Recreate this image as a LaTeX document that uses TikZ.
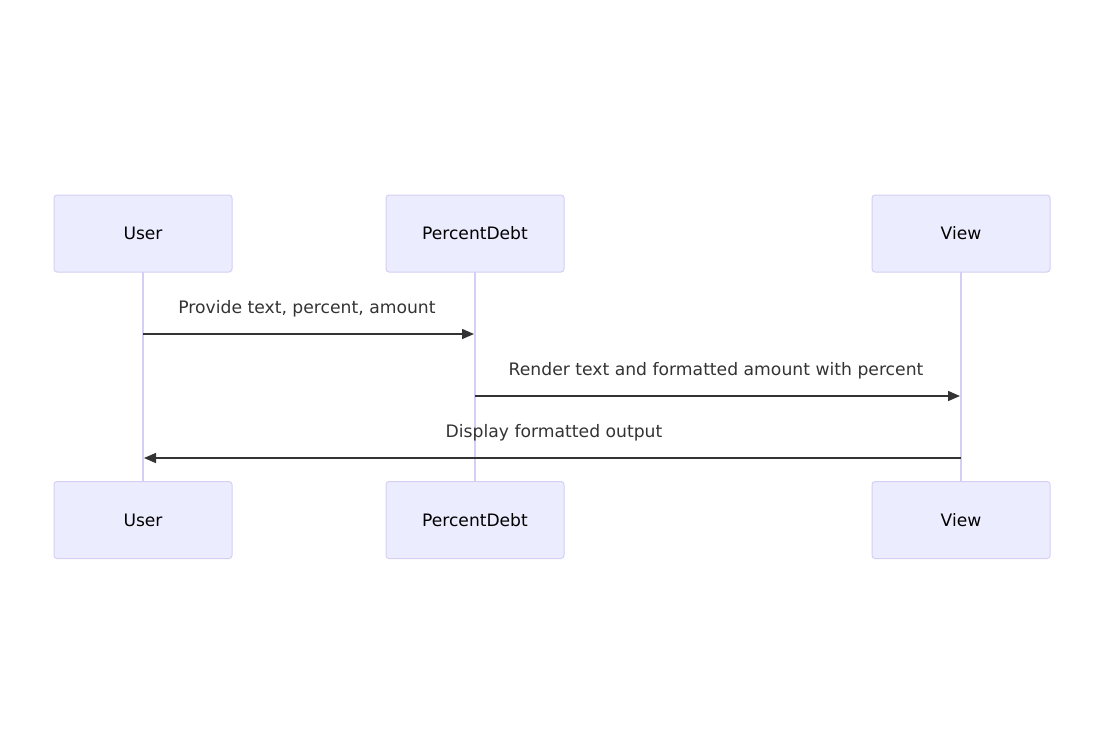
\documentclass[tikz,border=0pt]{standalone}
\usepackage{fontspec}
\setmainfont{DejaVu Sans}
\usetikzlibrary{arrows.meta}
\definecolor{actfill}{HTML}{ECECFF}
\definecolor{actline}{HTML}{D6CFF5}
\definecolor{msg}{HTML}{333333}
\tikzset{
  actor/.style={draw=actline, line width=1pt, fill=actfill, rounded corners=3pt, minimum width=178pt, minimum height=77pt, inner sep=0pt, font=\fontsize{17.1}{20}\selectfont, text=black},
  lifeline/.style={draw=actline, line width=2pt},
  message/.style={draw=msg, line width=1.5pt, -{Triangle[length=12pt,width=10pt]}},
  msglabel/.style={font=\fontsize{17.2}{20}\selectfont, text=msg, inner sep=0pt}
}
\begin{document}
\begin{tikzpicture}[x=1pt,y=-1pt]
\useasboundingbox (0,0) rectangle (1110,745);
\draw[lifeline] (143,272) coordinate (l1a) -- (143,482) coordinate (l1b);
\draw[lifeline] (475,272) -- (475,482);
\draw[lifeline] (961,272) -- (961,482);
\node[actor] (u1) at (143,233.5) {User};
\node[actor] (p1) at (475,233.5) {PercentDebt};
\node[actor] (v1) at (961,233.5) {View};
\node[actor] (u2) at (143,520) {User};
\node[actor] (p2) at (475,520) {PercentDebt};
\node[actor] (v2) at (961,520) {View};
\coordinate (a1s) at (143,334); \coordinate (a1e) at (474,334);
\coordinate (a2s) at (475,396); \coordinate (a2e) at (960,396);
\coordinate (a3s) at (961,458); \coordinate (a3e) at (144,458);
\draw[message] (a1s) -- (a1e);
\draw[message] (a2s) -- (a2e);
\draw[message] (a3s) -- (a3e);
\node[msglabel] (t1) at (307,308.5) {Provide text, percent, amount};
\node[msglabel] (t2) at (716,370.5) {Render text and formatted amount with percent};
\node[msglabel] (t3) at (554,432.5) {Display formatted output};
\end{tikzpicture}
\end{document}
